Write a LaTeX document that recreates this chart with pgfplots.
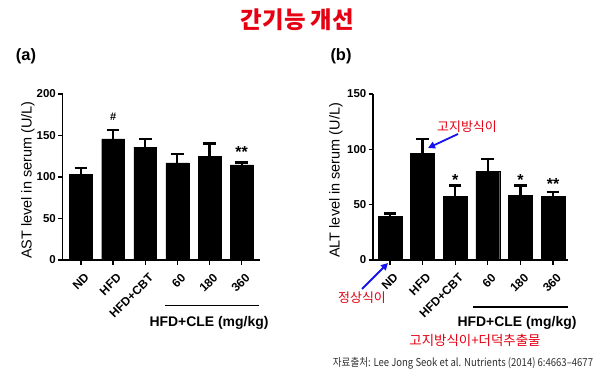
\documentclass[border=0pt]{standalone}
\usepackage{pgfplots}
\pgfplotsset{compat=1.18}
\usepackage{fontspec}
\setmainfont{Liberation Sans}
\newfontfamily\kr{Noto Sans CJK KR}
\usetikzlibrary{arrows.meta}
\definecolor{krred}{RGB}{230,0,18}
\definecolor{arrblue}{RGB}{20,20,235}
\definecolor{srcgray}{RGB}{50,50,50}
\pgfplotsset{
 panel/.style={
  scale only axis, anchor=south west, height=166bp,
  axis lines*=left,
  axis line style={line width=1.4pt},
  every tick/.style={line width=1.3pt, black},
  major tick length=4.5bp,
  tick align=outside,
  ybar, bar width=#1,
  ymin=0,
  xtick={0,...,5},
  xticklabels={ND,HFD,HFD+CBT,60,180,360},
  x tick label style={yshift=-6bp, xshift=3bp, rotate=45, anchor=north east, inner sep=1.5bp, font=\fontsize{12}{13}\selectfont\bfseries},
  y tick label style={font=\fontsize{11.5}{12}\selectfont\bfseries, inner sep=2bp},
  /pgf/number format/assume math mode=true,
  ylabel style={font=\fontsize{14.5}{15}\selectfont, anchor=center},
  clip=false,
 },
 errs/.style={fill=black, draw=black,
  error bars/.cd, y dir=plus, y explicit,
  error bar style={line width=2.2pt, black},
  error mark options={rotate=90, mark size=6.3bp, line width=2.4pt, black}},
}
\begin{document}
\begin{tikzpicture}[x=1bp,y=1bp]
\fill[white] (0,0) rectangle (600,375);
\path[use as bounding box] (0,0) rectangle (600,375);

% title
\node[text=krred, font=\kr\fontsize{23.5}{25}\selectfont\bfseries] at (297.5,355) {간기능 개선};
\node[font=\fontsize{16.5}{18}\selectfont\bfseries] at (26,319) {(a)};
\node[font=\fontsize{16.5}{18}\selectfont\bfseries] at (341,319) {(b)};

% panel (a)
\begin{axis}[panel=0.71, at={(62.5bp,115bp)}, width=197.5bp,
  xmin=-0.575, xmax=5.57, ymax=200, ytick={0,50,...,200},
  ylabel={AST level in serum (U/L)},
  ylabel style={at={(axis description cs:-0.175,0.48)}}]
\addplot[errs] coordinates {(0,103) +- (0,8) (1,146) +- (0,10.5) (2,136) +- (0,10) (3,117) +- (0,10.5) (4,125) +- (0,15.5) (5,114.5) +- (0,3.2)};
\node[font=\fontsize{11}{12}\selectfont\bfseries] at (axis cs:1,172) {\#};
\node[font=\fontsize{16}{17}\selectfont\bfseries] at (axis cs:5,130) {**};
\end{axis}

% panel (b)
\begin{axis}[panel=0.73, at={(373bp,115bp)}, width=195bp,
  xmin=-0.52, xmax=5.46, ymax=150, ytick={0,50,...,150},
  ylabel={ALT level in serum (U/L)},
  ylabel style={at={(axis description cs:-0.19,0.48)}}]
\addplot[errs] coordinates {(0,39.7) +- (0,2.2) (1,96.4) +- (0,12.9) (2,57.8) +- (0,9.4) (3,80.4) +- (0,10.8) (4,58.4) +- (0,8.8) (5,57.8) +- (0,3.6)};
\node[font=\fontsize{16}{17}\selectfont\bfseries] at (axis cs:2,72) {*};
\node[font=\fontsize{16}{17}\selectfont\bfseries] at (axis cs:4,72) {*};
\node[font=\fontsize{16}{17}\selectfont\bfseries] at (axis cs:5,69) {**};
\end{axis}

% group lines
\draw[line width=1.3pt] (165,69.3) -- (259,69.3);
\node[font=\fontsize{14}{15}\selectfont\bfseries] at (209,52) {HFD+CLE (mg/kg)};
\draw[line width=1.3pt] (473,68) -- (568,68);
\node[font=\fontsize{14}{15}\selectfont\bfseries] at (517,52) {HFD+CLE (mg/kg)};

% korean annotations
\node[text=krred, font=\kr\fontsize{13}{14}\selectfont] at (467,248) {고지방식이};
\draw[arrblue, line width=1.8pt, -{Triangle[length=7bp,width=7bp]}] (458,241) -- (428,227);
\node[text=krred, font=\kr\fontsize{13}{14}\selectfont] at (362,77) {정상식이};
\draw[arrblue, line width=1.8pt, -{Triangle[length=7bp,width=7bp]}] (362,86) -- (388,112);
\node[text=krred, font=\kr\fontsize{13.5}{14}\selectfont] at (475,35) {고지방식이+더덕추출물};

% source
\node[text=srcgray, font=\kr\fontsize{11}{12}\selectfont] at (463,12) {\scalebox{0.87}[1]{자료출처: Lee Jong Seok et al. Nutrients (2014) 6:4663–4677}};
\end{tikzpicture}
\end{document}
